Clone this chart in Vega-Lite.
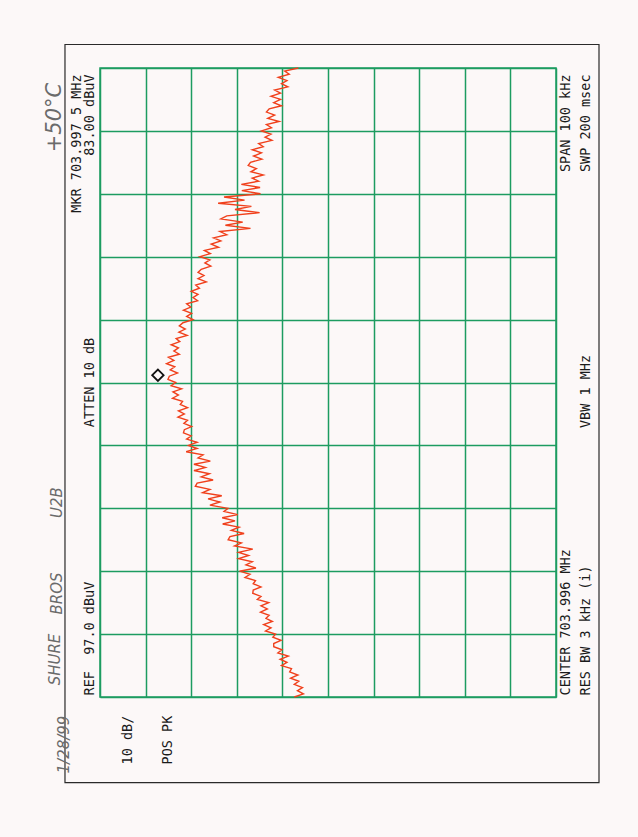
{
  "$schema": "https://vega.github.io/schema/vega-lite/v6.json",
  "autosize": {"type": "none"},
  "padding": {"left": 100, "top": 68, "right": 82, "bottom": 140},
  "width": 456,
  "height": 629,
  "background": "#fcf8f8",
  "view": {"stroke": "#1d9c61", "strokeWidth": 1.5},
  "config": {
    "axis": {"grid": true, "gridColor": "#1d9c61", "gridWidth": 1.5, "gridOpacity": 1, "labels": false, "ticks": false, "domain": false},
    "text": {"font": "DejaVu Sans Mono", "fontSize": 13.5, "angle": 270, "baseline": "middle", "color": "#1a1a1a"}
  },
  "data": {"values": [{}]},
  "datasets": {
    "trace": [
      {"freq":703.9460,"level":54.4},{"freq":703.9465,"level":52.4},{"freq":703.9470,"level":53.7},{"freq":703.9475,"level":52.6},
      {"freq":703.9480,"level":54.4},{"freq":703.9485,"level":53.4},{"freq":703.9490,"level":55.2},{"freq":703.9495,"level":53.6},
      {"freq":703.9500,"level":55.4},{"freq":703.9505,"level":55.0},{"freq":703.9510,"level":57.2},{"freq":703.9515,"level":56.0},
      {"freq":703.9520,"level":57.5},{"freq":703.9525,"level":55.7},{"freq":703.9530,"level":58.0},{"freq":703.9535,"level":57.1},
      {"freq":703.9540,"level":58.9},{"freq":703.9545,"level":58.9},{"freq":703.9550,"level":57.3},{"freq":703.9555,"level":59.1},
      {"freq":703.9560,"level":58.5},{"freq":703.9565,"level":60.7},{"freq":703.9570,"level":59.5},{"freq":703.9575,"level":61.1},
      {"freq":703.9580,"level":59.2},{"freq":703.9585,"level":60.6},{"freq":703.9590,"level":59.9},{"freq":703.9595,"level":61.8},
      {"freq":703.9600,"level":60.3},{"freq":703.9605,"level":61.7},{"freq":703.9610,"level":60.0},{"freq":703.9615,"level":62.5},
      {"freq":703.9620,"level":61.7},{"freq":703.9625,"level":63.5},{"freq":703.9630,"level":63.4},{"freq":703.9635,"level":61.7},
      {"freq":703.9640,"level":63.4},{"freq":703.9645,"level":62.9},{"freq":703.9650,"level":65.2},{"freq":703.9655,"level":64.1},
      {"freq":703.9660,"level":66.4},{"freq":703.9665,"level":62.8},{"freq":703.9670,"level":65.0},{"freq":703.9675,"level":63.6},
      {"freq":703.9680,"level":66.6},{"freq":703.9685,"level":64.4},{"freq":703.9690,"level":66.6},{"freq":703.9695,"level":63.5},
      {"freq":703.9700,"level":67.5},{"freq":703.9705,"level":66.0},{"freq":703.9710,"level":68.9},{"freq":703.9715,"level":68.5},
      {"freq":703.9720,"level":65.4},{"freq":703.9725,"level":68.2},{"freq":703.9730,"level":66.5},{"freq":703.9735,"level":70.1},
      {"freq":703.9740,"level":67.4},{"freq":703.9745,"level":70.2},{"freq":703.9750,"level":66.8},{"freq":703.9755,"level":69.8},
      {"freq":703.9760,"level":68.9},{"freq":703.9765,"level":72.9},{"freq":703.9770,"level":70.7},{"freq":703.9775,"level":73.3},
      {"freq":703.9780,"level":70.3},{"freq":703.9785,"level":74.5},{"freq":703.9790,"level":72.9},{"freq":703.9795,"level":76.1},
      {"freq":703.9800,"level":75.7},{"freq":703.9805,"level":72.2},{"freq":703.9810,"level":74.8},{"freq":703.9815,"level":73.0},
      {"freq":703.9820,"level":76.4},{"freq":703.9825,"level":73.9},{"freq":703.9830,"level":76.4},{"freq":703.9835,"level":72.8},
      {"freq":703.9840,"level":75.5},{"freq":703.9845,"level":74.4},{"freq":703.9850,"level":78.1},{"freq":703.9855,"level":75.7},
      {"freq":703.9860,"level":77.6},{"freq":703.9865,"level":75.7},{"freq":703.9870,"level":78.0},{"freq":703.9875,"level":77.0},
      {"freq":703.9880,"level":78.7},{"freq":703.9885,"level":78.5},{"freq":703.9890,"level":76.9},{"freq":703.9895,"level":78.6},
      {"freq":703.9900,"level":77.8},{"freq":703.9905,"level":79.9},{"freq":703.9910,"level":78.5},{"freq":703.9915,"level":79.8},
      {"freq":703.9920,"level":77.8},{"freq":703.9925,"level":79.4},{"freq":703.9930,"level":78.9},{"freq":703.9935,"level":81.1},
      {"freq":703.9940,"level":79.8},{"freq":703.9945,"level":81.0},{"freq":703.9950,"level":79.1},{"freq":703.9955,"level":81.4},
      {"freq":703.9960,"level":80.4},{"freq":703.9965,"level":82.1},{"freq":703.9970,"level":81.8},{"freq":703.9975,"level":80.0},
      {"freq":703.9980,"level":81.6},{"freq":703.9985,"level":80.6},{"freq":703.9990,"level":82.4},{"freq":703.9995,"level":80.8},
      {"freq":704.0000,"level":82.0},{"freq":704.0005,"level":79.6},{"freq":704.0010,"level":80.8},{"freq":704.0015,"level":79.8},
      {"freq":704.0020,"level":81.4},{"freq":704.0025,"level":79.5},{"freq":704.0030,"level":80.3},{"freq":704.0035,"level":77.9},
      {"freq":704.0040,"level":79.7},{"freq":704.0045,"level":78.3},{"freq":704.0050,"level":79.6},{"freq":704.0055,"level":78.8},
      {"freq":704.0060,"level":76.6},{"freq":704.0065,"level":78.0},{"freq":704.0070,"level":76.9},{"freq":704.0075,"level":78.7},
      {"freq":704.0080,"level":77.1},{"freq":704.0085,"level":78.0},{"freq":704.0090,"level":75.6},{"freq":704.0095,"level":76.6},
      {"freq":704.0100,"level":75.5},{"freq":704.0105,"level":77.0},{"freq":704.0110,"level":75.2},{"freq":704.0115,"level":76.0},
      {"freq":704.0120,"level":73.7},{"freq":704.0125,"level":75.5},{"freq":704.0130,"level":74.2},{"freq":704.0135,"level":75.5},
      {"freq":704.0140,"level":74.8},{"freq":704.0145,"level":72.7},{"freq":704.0150,"level":74.0},{"freq":704.0155,"level":72.9},
      {"freq":704.0160,"level":75.1},{"freq":704.0165,"level":72.8},{"freq":704.0170,"level":74.1},{"freq":704.0175,"level":71.0},
      {"freq":704.0180,"level":72.6},{"freq":704.0185,"level":70.5},{"freq":704.0190,"level":72.1},{"freq":704.0195,"level":69.2},
      {"freq":704.0200,"level":70.7},{"freq":704.0205,"level":64.0},{"freq":704.0210,"level":69.5},{"freq":704.0215,"level":65.7},
      {"freq":704.0220,"level":70.5},{"freq":704.0225,"level":69.2},{"freq":704.0230,"level":62.0},{"freq":704.0235,"level":67.4},
      {"freq":704.0240,"level":63.8},{"freq":704.0245,"level":71.1},{"freq":704.0250,"level":65.3},{"freq":704.0255,"level":69.8},
      {"freq":704.0260,"level":61.8},{"freq":704.0265,"level":65.9},{"freq":704.0270,"level":61.9},{"freq":704.0275,"level":66.0},
      {"freq":704.0280,"level":62.2},{"freq":704.0285,"level":63.6},{"freq":704.0290,"level":61.2},{"freq":704.0295,"level":63.9},
      {"freq":704.0300,"level":62.7},{"freq":704.0305,"level":64.5},{"freq":704.0310,"level":64.0},{"freq":704.0315,"level":61.5},
      {"freq":704.0320,"level":63.3},{"freq":704.0325,"level":61.6},{"freq":704.0330,"level":63.6},{"freq":704.0335,"level":61.2},
      {"freq":704.0340,"level":62.2},{"freq":704.0345,"level":59.3},{"freq":704.0350,"level":60.8},{"freq":704.0355,"level":59.5},
      {"freq":704.0360,"level":61.6},{"freq":704.0365,"level":59.4},{"freq":704.0370,"level":60.5},{"freq":704.0375,"level":57.7},
      {"freq":704.0380,"level":60.2},{"freq":704.0385,"level":58.7},{"freq":704.0390,"level":60.5},{"freq":704.0395,"level":59.9},
      {"freq":704.0400,"level":57.2},{"freq":704.0405,"level":58.9},{"freq":704.0410,"level":57.4},{"freq":704.0415,"level":59.5},
      {"freq":704.0420,"level":57.4},{"freq":704.0425,"level":58.7},{"freq":704.0430,"level":55.8},{"freq":704.0435,"level":57.2},
      {"freq":704.0440,"level":56.0},{"freq":704.0445,"level":57.9},{"freq":704.0450,"level":55.5},{"freq":704.0455,"level":56.5},
      {"freq":704.0460,"level":53.5}
    ]
  },
  "layer": [
    {
      "data": {"name": "trace"},
      "mark": {"type": "line", "color": "#f0401c", "strokeWidth": 1.4},
      "encoding": {
        "x": {"field": "level", "type": "quantitative",
              "scale": {"domain": [-3, 97], "reverse": true, "nice": false, "zero": false},
              "axis": {"title": null, "grid": true, "values": [-3, 7, 17, 27, 37, 47, 57, 67, 77, 87, 97]}},
        "y": {"field": "freq", "type": "quantitative",
              "scale": {"domain": [703.946, 704.046], "nice": false, "zero": false},
              "axis": {"title": null, "grid": true, "values": [703.946, 703.956, 703.966, 703.976, 703.986, 703.996, 704.006, 704.016, 704.026, 704.036, 704.046]}},
        "order": {"field": "freq", "type": "quantitative"}
      }
    },
    {
      "mark": {"type": "rect", "filled": false, "stroke": "#2a2a2a", "strokeWidth": 1.2},
      "encoding": {
        "x": {"datum": 104.68, "type": "quantitative", "axis": {"title": null}},
        "x2": {"datum": -12.43},
        "y": {"datum": 704.04974, "type": "quantitative", "axis": {"title": null}},
        "y2": {"datum": 703.9324}
      }
    },
    {
      "mark": {"type": "point", "shape": "diamond", "filled": false, "stroke": "#111111", "strokeWidth": 1.8, "size": 130, "opacity": 1},
      "encoding": {
        "x": {"datum": 84.3, "type": "quantitative", "axis": {"title": null}},
        "y": {"datum": 703.99716, "type": "quantitative", "axis": {"title": null}}
      }
    },
    {"mark": {"type": "text", "align": "right", "text": "MKR 703.997 5 MHz"},
     "encoding": {"x": {"datum": 102.0, "type": "quantitative", "axis": {"title": null}}, "y": {"datum": 704.04497, "type": "quantitative", "axis": {"title": null}}}},
    {"mark": {"type": "text", "align": "right", "text": "83.00 dBuV"},
     "encoding": {"x": {"datum": 99.3, "type": "quantitative", "axis": {"title": null}}, "y": {"datum": 704.04497, "type": "quantitative", "axis": {"title": null}}}},
    {"mark": {"type": "text", "align": "center", "text": "ATTEN 10 dB"},
     "encoding": {"x": {"datum": 99.2, "type": "quantitative", "axis": {"title": null}}, "y": {"datum": 703.996, "type": "quantitative", "axis": {"title": null}}}},
    {"mark": {"type": "text", "align": "left", "text": "REF \u00a097.0 dBuV"},
     "encoding": {"x": {"datum": 99.3, "type": "quantitative", "axis": {"title": null}}, "y": {"datum": 703.94624, "type": "quantitative", "axis": {"title": null}}}},
    {"mark": {"type": "text", "align": "left", "text": "10 dB/"},
     "encoding": {"x": {"datum": 90.86, "type": "quantitative", "axis": {"title": null}}, "y": {"datum": 703.93527, "type": "quantitative", "axis": {"title": null}}}},
    {"mark": {"type": "text", "align": "left", "text": "POS PK"},
     "encoding": {"x": {"datum": 82.09, "type": "quantitative", "axis": {"title": null}}, "y": {"datum": 703.93527, "type": "quantitative", "axis": {"title": null}}}},
    {"mark": {"type": "text", "align": "right", "text": "SPAN 100 kHz"},
     "encoding": {"x": {"datum": -5.19, "type": "quantitative", "axis": {"title": null}}, "y": {"datum": 704.04497, "type": "quantitative", "axis": {"title": null}}}},
    {"mark": {"type": "text", "align": "right", "text": "SWP 200 msec"},
     "encoding": {"x": {"datum": -9.47, "type": "quantitative", "axis": {"title": null}}, "y": {"datum": 704.04497, "type": "quantitative", "axis": {"title": null}}}},
    {"mark": {"type": "text", "align": "left", "text": "CENTER 703.996 MHz"},
     "encoding": {"x": {"datum": -5.19, "type": "quantitative", "axis": {"title": null}}, "y": {"datum": 703.94624, "type": "quantitative", "axis": {"title": null}}}},
    {"mark": {"type": "text", "align": "left", "text": "RES BW 3 kHz (i)"},
     "encoding": {"x": {"datum": -9.47, "type": "quantitative", "axis": {"title": null}}, "y": {"datum": 703.94624, "type": "quantitative", "axis": {"title": null}}}},
    {"mark": {"type": "text", "align": "center", "text": "VBW 1 MHz"},
     "encoding": {"x": {"datum": -9.47, "type": "quantitative", "axis": {"title": null}}, "y": {"datum": 703.99457, "type": "quantitative", "axis": {"title": null}}}},
    {"mark": {"type": "text", "align": "center", "text": "+50°C", "font": "DejaVu Sans", "fontStyle": "italic", "fontWeight": 300, "fontSize": 21, "color": "#6b6b6b"},
     "encoding": {"x": {"datum": 106.9, "type": "quantitative", "axis": {"title": null}}, "y": {"datum": 704.03813, "type": "quantitative", "axis": {"title": null}}}},
    {"mark": {"type": "text", "align": "center", "text": "SHURE", "font": "DejaVu Sans", "fontStyle": "italic", "fontWeight": 300, "fontSize": 15, "color": "#6b6b6b"},
     "encoding": {"x": {"datum": 106.9, "type": "quantitative", "axis": {"title": null}}, "y": {"datum": 703.95196, "type": "quantitative", "axis": {"title": null}}}},
    {"mark": {"type": "text", "align": "center", "text": "BROS", "font": "DejaVu Sans", "fontStyle": "italic", "fontWeight": 300, "fontSize": 15, "color": "#6b6b6b"},
     "encoding": {"x": {"datum": 106.4, "type": "quantitative", "axis": {"title": null}}, "y": {"datum": 703.96245, "type": "quantitative", "axis": {"title": null}}}},
    {"mark": {"type": "text", "align": "center", "text": "U2B", "font": "DejaVu Sans", "fontStyle": "italic", "fontWeight": 300, "fontSize": 15, "color": "#6b6b6b"},
     "encoding": {"x": {"datum": 106.4, "type": "quantitative", "axis": {"title": null}}, "y": {"datum": 703.97692, "type": "quantitative", "axis": {"title": null}}}},
    {"mark": {"type": "text", "align": "center", "text": "1/28/99", "font": "DejaVu Sans", "fontStyle": "italic", "fontWeight": 300, "fontSize": 15, "color": "#6b6b6b"},
     "encoding": {"x": {"datum": 105.0, "type": "quantitative", "axis": {"title": null}}, "y": {"datum": 703.93844, "type": "quantitative", "axis": {"title": null}}}}
  ]
}
